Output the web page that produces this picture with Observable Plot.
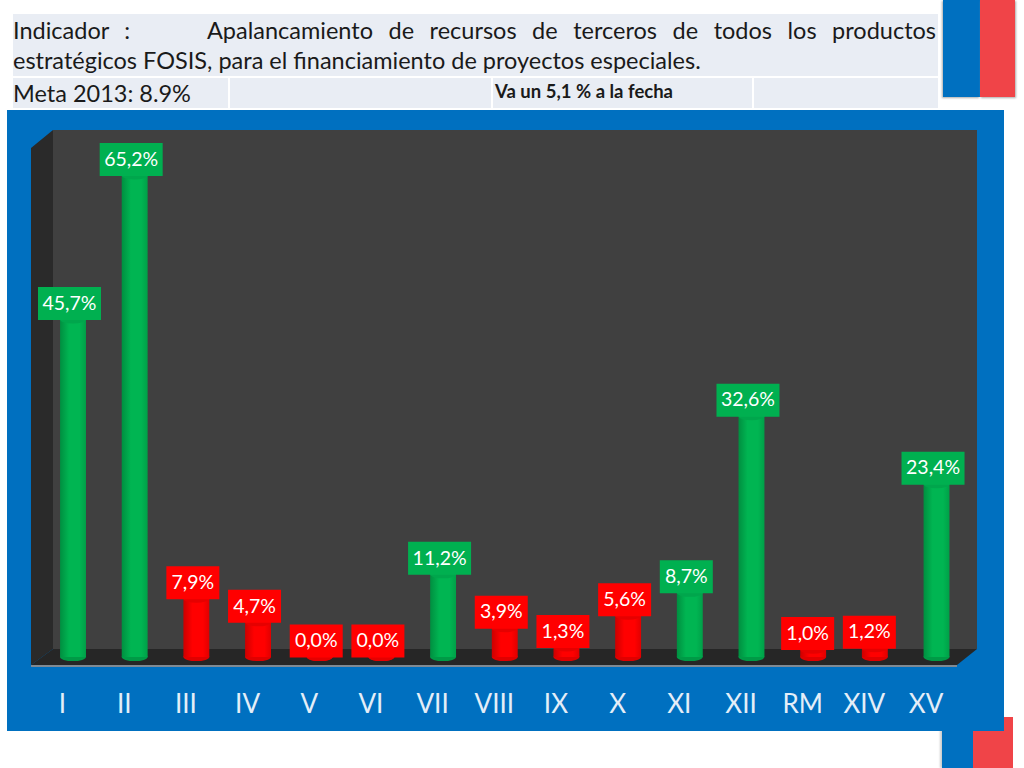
<!DOCTYPE html>
<html lang="es">
<head>
<meta charset="utf-8">
<script src="https://cdn.jsdelivr.net/npm/d3@7"></script>
<script src="https://cdn.jsdelivr.net/npm/@observablehq/plot@0.6"></script>
<style>
html,body{margin:0;padding:0;background:#fff;overflow:hidden}
#page{position:relative;width:1024px;height:768px;font-family:Lato,sans-serif;color:#1a1a1a}
.abs{position:absolute}
#title{left:13px;top:14px;width:925px;height:62px;background:#e9edf4;box-sizing:border-box;padding:1px 2px 0 0;font-size:23.5px;line-height:30px;white-space:nowrap}
#title .l1{text-align:justify;text-align-last:justify;white-space:normal}
.cell{top:78px;height:30px;background:#e9edf4;box-sizing:border-box}
#bg,#chart{left:0;top:0}
</style>
</head>
<body>
<div id="page">
  <div class="abs" style="left:943px;top:0;width:37px;height:97px;background:#0070c0;box-shadow:-1px 1px 2px #aaa"></div>
  <div class="abs" style="left:980px;top:0;width:35px;height:97px;background:#f04448;box-shadow:1px 1px 2px #aaa"></div>
  <div class="abs" style="left:973px;top:717px;width:40px;height:51px;background:#f04448"></div>
  <div class="abs" style="left:942px;top:725px;width:31px;height:43px;background:#0070c0;box-shadow:-2px 0 2px #ccc"></div>
  <div id="title" class="abs"><div class="l1">Indicador : &nbsp;&nbsp;&nbsp; Apalancamiento de recursos de terceros de todos los productos</div><div>estratégicos FOSIS, para el financiamiento de proyectos especiales.</div></div>
  <div class="abs cell" style="left:13px;width:215px;font-size:23.5px;line-height:30px">Meta 2013: 8.9%</div>
  <div class="abs cell" style="left:230px;width:261px"></div>
  <div class="abs cell" style="left:493px;width:259px;font-size:18.5px;font-weight:700;line-height:27px;padding-left:2px;white-space:nowrap">Va un 5,1 % a la fecha</div>
  <div class="abs cell" style="left:754px;width:184px"></div>
  <svg id="bg" class="abs" width="1024" height="768">
    <rect x="7" y="110" width="997" height="621" fill="#0070c0"/>
    <polygon points="53,130 977,130 977,649 53,649" fill="#404040"/>
    <polygon points="31,148 53,130 53,649 31,665" fill="#2a2a2a"/>
    <polygon points="31,665 53,649 977,649 957,665" fill="#262626"/>
    <rect x="31" y="665" width="926" height="2" fill="#7f8a94"/>
  </svg>
</div>
<script>
const regiones = ["I","II","III","IV","V","VI","VII","VIII","IX","X","XI","XII","RM","XIV","XV"];
const valores = [45.7,65.2,7.9,4.7,0,0,11.2,3.9,1.3,5.6,8.7,32.6,1.0,1.2,23.4];
const estado = ["ok","ok","bajo","bajo","bajo","bajo","ok","bajo","bajo","bajo","ok","ok","bajo","bajo","ok"];
const verde = "#00b050", rojo = "#ff0000";

const datos = regiones.map((r,i)=>({r, v:valores[i], e:estado[i], t:valores[i].toFixed(1).replace(".",",")+"%"}));
const grupo = e => datos.filter(d=>d.e===e);

function defs(){
  const g = d3.create("svg:defs");
  [["gOk","#008f40","#00b552","#00a048"],["gBajo","#cc0000","#ff0000","#e00000"]].forEach(([id,a,b,c])=>{
    const lg = g.append("linearGradient").attr("id",id);
    lg.append("stop").attr("offset","0%").attr("stop-color",a);
    lg.append("stop").attr("offset","35%").attr("stop-color",b);
    lg.append("stop").attr("offset","75%").attr("stop-color",b);
    lg.append("stop").attr("offset","100%").attr("stop-color",c);
  });
  return g.node();
}
const cajaAncha = {draw(ctx){ctx.rect(-31.5,-16.5,63,33);}};
const cajaEstrecha = {draw(ctx){ctx.rect(-26.5,-16.5,53,33);}};
const serie = (e,grad,base,tapa)=>[
  Plot.barY(grupo(e),{x:"r",y1:-0.55,y2:0.55,rx:13,ry:4,fill:base}),
  Plot.barY(grupo(e),{x:"r",y1:0,y2:"v",fill:`url(#${grad})`}),
  Plot.barY(grupo(e),{x:"r",y1:d=>d.v-0.55,y2:d=>d.v+0.55,rx:13,ry:4,fill:tapa})
];
const etiqueta = d => {
  const dx = (d.r==="RM"||d.r==="XIV") ? -6 : -4;
  const dy = -16.5;
  const symbol = d.t.length>4 ? cajaAncha : cajaEstrecha;
  return [
    Plot.dot([d],{x:"r",y:"v",dx,dy,symbol,r:10,fill:d.e==="ok"?verde:rojo,stroke:"none"}),
    Plot.text([d],{x:"r",y:"v",dx,dy,text:"t",fill:"white",fontSize:19.5})
  ];
};
const plot = Plot.plot({
  width:1024,height:768,
  marginTop:0,marginLeft:0,marginRight:0,marginBottom:84,
  style:{background:"transparent",fontFamily:"Lato, sans-serif"},
  x:{domain:regiones,range:[42.16,967.36],round:false,paddingInner:0.58,paddingOuter:0.29,label:null},
  y:{domain:[0,70],range:[657,140],axis:null},
  marks:[
    defs,
    ...serie("ok","gOk","#009a46","#00a64c"),
    ...serie("bajo","gBajo","#e00000","#e60000"),
    ...datos.flatMap(etiqueta),
    Plot.axisX({anchor:"bottom",tickSize:0,tickPadding:10,dx:-11,fontSize:26,fill:"#e4eef8",label:null})
  ]
});
plot.id="chart";
plot.classList.add("abs");
plot.style.position="absolute";
document.getElementById("page").appendChild(plot);
</script>
</body>
</html>
